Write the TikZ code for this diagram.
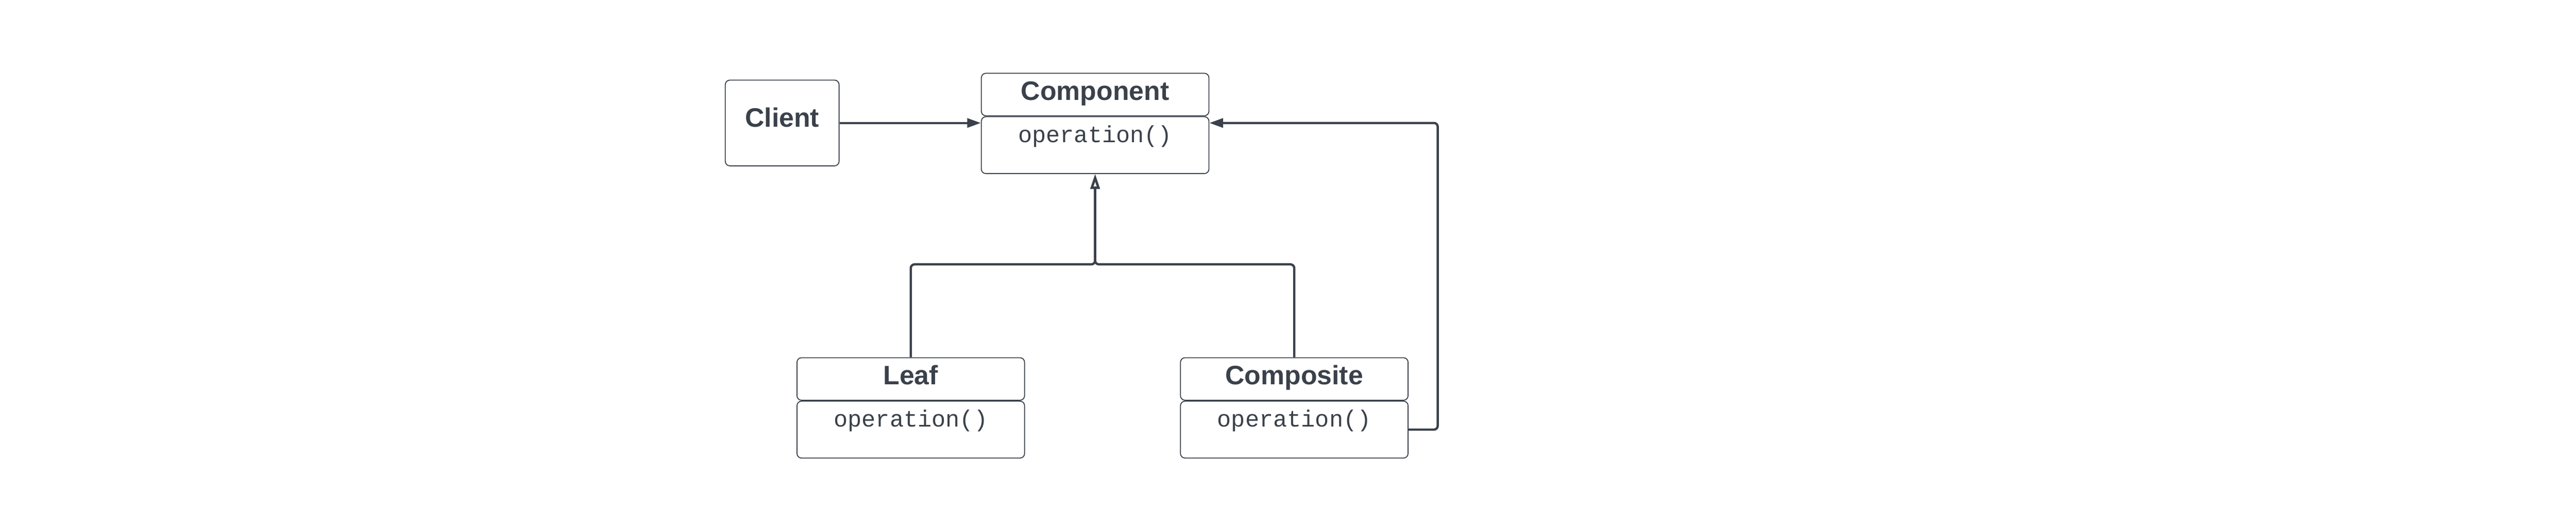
\documentclass[tikz,border=0pt]{standalone}
\usepackage{fontspec}
\setmainfont{Liberation Sans}
\setmonofont{Liberation Mono}
\usetikzlibrary{positioning}
\usetikzlibrary{arrows.meta}
\definecolor{ink}{RGB}{58,65,74}

\begin{document}
\begin{tikzpicture}[
        box/.style={draw=ink, line width=0.7pt, rounded corners=0.12cm, inner xsep=0pt, inner ysep=0pt, text=ink},
        head/.style={box, minimum width=6cm, font=\fontsize{20}{24}\selectfont\bfseries, text height=0.71cm, text depth=0.41cm},
        ops/.style={box, minimum width=6cm, font=\fontsize{17.5}{21}\selectfont\ttfamily, text height=0.68cm, text depth=0.82cm},
        link/.style={draw=ink, line width=1.7pt, rounded corners=0.1cm},
        uses/.style={link, -{Triangle[length=0.36cm, width=0.24cm]}},
        inherits/.style={link, -{Triangle[open, length=0.39cm, width=0.24cm]}}
    ]
        \useasboundingbox (0,0) rectangle (67.91,-13.91);
        % classes
        \node[box, minimum width=3cm, font=\fontsize{20}{24}\selectfont\bfseries, text height=1.24cm, text depth=1.02cm, anchor=north] (client) at (20.62,-2.10) {Client};
        \node[head, anchor=north] (compTop) at (28.87,-1.92) {Component};
        \node[ops, below=0pt of compTop] (compOps) {operation()};
        \node[head, anchor=north] (leafTop) at (24.01,-9.42) {Leaf};
        \node[ops, below=0pt of leafTop] (leafOps) {operation()};
        \node[head, anchor=north] (compoTop) at (34.12,-9.42) {Composite};
        \node[ops, below=0pt of compoTop] (compoOps) {operation()};
        % connectors
        \coordinate (join) at (compOps.south |- 0,-6.97);
        \draw[uses] (client.east) -- (client.east -| compOps.west);
        \draw[uses] (compoOps.east) -- ++(0.77,0) |- (client.east -| compOps.east);
        \draw[inherits] (leafTop.north) |- (join) -- (compOps.south);
        \draw[inherits] (compoTop.north) |- (join) -- (compOps.south);
    \end{tikzpicture}
\end{document}
